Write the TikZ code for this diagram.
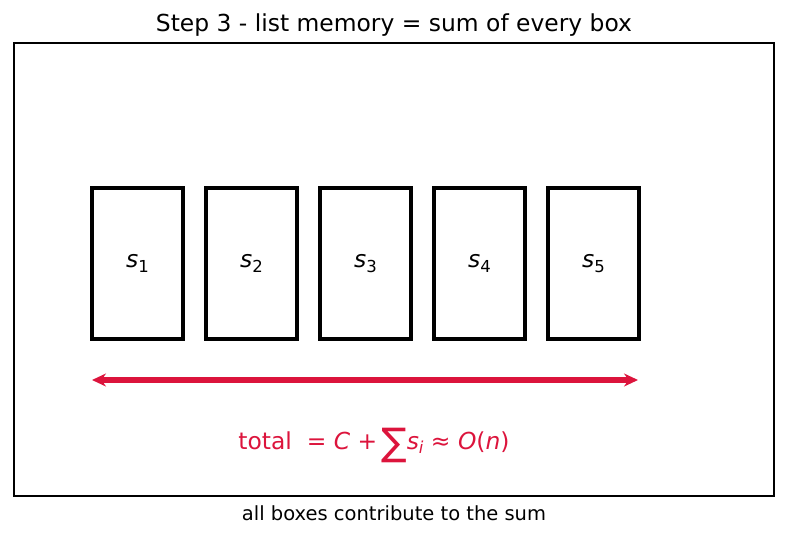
\documentclass[tikz,border=0pt]{standalone}
\usepackage{fontspec}
\setmainfont{DejaVu Sans}
\usetikzlibrary{arrows.meta}
\definecolor{crim}{HTML}{DC143C}
\newcommand{\mysub}[2]{{\itshape #1}\raisebox{-0.35ex}{\fontsize{16.5}{17}\selectfont #2}}
\tikzset{
  frame/.style={draw=black, line width=2.4pt},
  mbox/.style={draw=black, line width=4.6pt, minimum width=91pt, minimum height=151pt, inner sep=0pt, font=\fontsize{23.4}{26}\selectfont},
  ttl/.style={font=\fontsize{23.4}{26}\selectfont},
  foot/.style={font=\fontsize{19.5}{22}\selectfont},
  span/.style={draw=crim, line width=5.5pt, {Stealth[length=14pt,width=13pt]}-{Stealth[length=14pt,width=13pt]}},
}
\begin{document}
\begin{tikzpicture}[x=1pt,y=-1pt]
\useasboundingbox (0,0) rectangle (787,537);
\node[frame, minimum width=760pt, minimum height=453pt, inner sep=0pt] (fr) at (394,269.5) {};
\node[ttl] (title) at (394,25.5) {Step 3 - list memory = sum of every box};
\node[foot] (footer) at (394,513) {all boxes contribute to the sum};
\node[mbox] (b1) at (137.5,263.5) {\mysub{s}{1}};
\node[mbox] (b2) at (251.5,263.5) {\mysub{s}{2}};
\node[mbox] (b3) at (365.5,263.5) {\mysub{s}{3}};
\node[mbox] (b4) at (479.5,263.5) {\mysub{s}{4}};
\node[mbox] (b5) at (593.5,263.5) {\mysub{s}{5}};
\coordinate (al) at (92,380);
\coordinate (ar) at (638,380);
\draw[span] (al) -- (ar);
\node[text=crim, font=\fontsize{23.4}{26}\selectfont] (formula) at (374,445)
  {total\ \ = {\itshape C} +\,\raisebox{-0.25em}{\fontsize{38}{38}\selectfont ∑}\mysub{s}{\itshape i} ≈ {\itshape O}({\itshape n})};
\end{tikzpicture}
\end{document}
